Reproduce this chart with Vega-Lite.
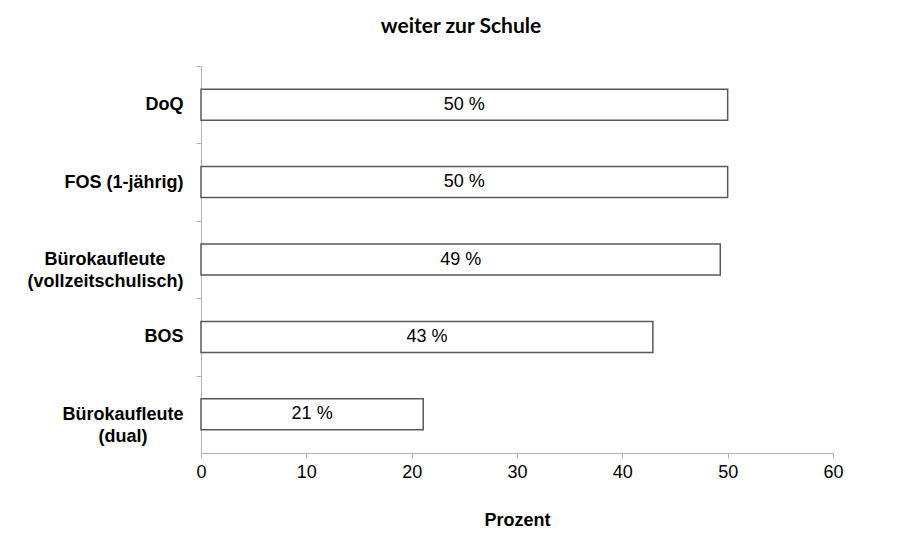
{
  "$schema": "https://vega.github.io/schema/vega-lite/v6.json",
  "width": 632,
  "height": 387,
  "autosize": {"type": "none"},
  "padding": {"left": 201, "top": 66, "right": 75, "bottom": 85},
  "background": "white",
  "title": {
    "text": "weiter zur Schule",
    "font": "Lato",
    "fontSize": 21,
    "fontWeight": "bold",
    "color": "black",
    "anchor": "middle",
    "dx": -56,
    "baseline": "bottom",
    "offset": 8
  },
  "data": {
    "values": [
      {"kategorie": "DoQ", "wert": 50.0, "label": "50 %"},
      {"kategorie": "FOS (1-jährig)", "wert": 50.0, "label": "50 %"},
      {"kategorie": "Bürokaufleute\u00a0\u2800\n(vollzeitschulisch)", "wert": 49.3, "label": "49 %"},
      {"kategorie": "BOS", "wert": 42.9, "label": "43 %"},
      {"kategorie": "Bürokaufleute\n(dual)\u00a0\u00a0\u2800\u2800", "wert": 21.1, "label": "21 %"}
    ]
  },
  "transform": [{"calculate": "datum.wert / 2", "as": "mitte"}],
  "encoding": {
    "y": {
      "field": "kategorie",
      "type": "nominal",
      "sort": null,
      "scale": {"paddingInner": 0.6, "paddingOuter": 0.3},
      "axis": {
        "title": null,
        "labelExpr": "split(datum.value, '\\n')",
        "labelFont": "Liberation Sans",
        "labelFontSize": 18,
        "labelFontWeight": "bold",
        "labelColor": "black",
        "labelPadding": 13,
        "labelLineHeight": 22,
        "labelLimit": 250,
        "tickOffset": -38.7,
        "labelOffset": 38.7,
        "tickSize": 5,
        "tickColor": "#b3b3b3",
        "domainColor": "#b3b3b3",
        "grid": false
      }
    }
  },
  "layer": [
    {
      "mark": {"type": "bar", "fill": "white", "stroke": "#595959", "strokeWidth": 1.5},
      "encoding": {
        "x": {
          "field": "wert",
          "type": "quantitative",
          "scale": {"domain": [0, 60], "nice": false},
          "axis": {
            "title": "Prozent",
            "titleFont": "Liberation Sans",
            "titleFontSize": 18,
            "titleFontWeight": "bold",
            "titleColor": "black",
            "titlePadding": 30,
            "values": [0, 10, 20, 30, 40, 50, 60],
            "labelFont": "Liberation Sans",
            "labelFontSize": 18,
            "labelColor": "black",
            "labelPadding": 5,
            "labelFlush": false,
            "tickSize": 5,
            "tickColor": "#b3b3b3",
            "domainColor": "#b3b3b3",
            "grid": false
          }
        }
      }
    },
    {
      "mark": {"type": "text", "font": "Liberation Sans", "fontSize": 18, "color": "black", "align": "center", "baseline": "middle"},
      "encoding": {
        "x": {"field": "mitte", "type": "quantitative"},
        "text": {"field": "label", "type": "nominal"}
      }
    }
  ],
  "config": {"view": {"stroke": null}}
}
